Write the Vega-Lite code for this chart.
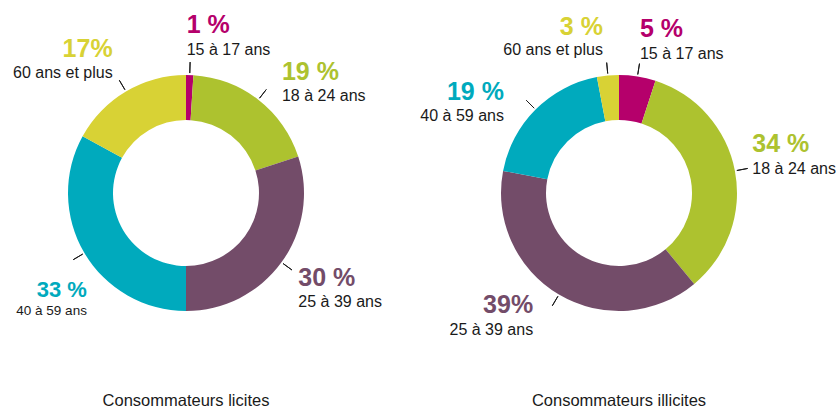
{
  "$schema": "https://vega.github.io/schema/vega-lite/v6.json",
  "padding": 0,
  "spacing": 61,
  "bounds": "flush",
  "background": "white",
  "config": {"view": {"stroke": null}, "font": "Liberation Sans"},
  "datasets": {
    "d": [
      {"chart": "licites", "group": "15 à 17 ans", "value": 1, "pct": "1 %"},
      {"chart": "licites", "group": "18 à 24 ans", "value": 19, "pct": "19 %"},
      {"chart": "licites", "group": "25 à 39 ans", "value": 30, "pct": "30 %"},
      {"chart": "licites", "group": "40 à 59 ans", "value": 33, "pct": "33 %"},
      {"chart": "licites", "group": "60 ans et plus", "value": 17, "pct": "17%"},
      {"chart": "illicites", "group": "15 à 17 ans", "value": 5, "pct": "5 %"},
      {"chart": "illicites", "group": "18 à 24 ans", "value": 34, "pct": "34 %"},
      {"chart": "illicites", "group": "25 à 39 ans", "value": 39, "pct": "39%"},
      {"chart": "illicites", "group": "40 à 59 ans", "value": 19, "pct": "19 %"},
      {"chart": "illicites", "group": "60 ans et plus", "value": 3, "pct": "3 %"}
    ]
  },
  "data": {"name": "d"},
  "hconcat": [
    {
      "width": 372,
      "height": 386,
      "title": {"text": "Consommateurs licites", "orient": "bottom", "offset": 20, "baseline": "alphabetic", "fontSize": 16.5, "fontWeight": "normal", "color": "#1a1a1a"},
      "transform": [{"filter": "datum.chart === 'licites'"}],
      "encoding": {
        "theta": {"field": "value", "type": "quantitative", "stack": true},
        "order": {"field": "group", "type": "ordinal", "sort": "ascending"}
      },
      "layer": [
        {"mark": {"type": "arc", "innerRadius": 73, "outerRadius": 118},
         "encoding": {"color": {"field": "group", "type": "nominal", "legend": null,
           "scale": {"domain": ["15 à 17 ans", "18 à 24 ans", "25 à 39 ans", "40 à 59 ans", "60 ans et plus"], "range": ["#b5006b", "#adc22f", "#734c69", "#00aabd", "#d8d235"]}}}},
        {"mark": {"type": "arc", "innerRadius": 120, "outerRadius": 131, "padAngle": 3, "fill": null, "stroke": "#1a1a1a", "strokeWidth": 1},
         "encoding": {"detail": {"field": "group", "type": "nominal"}}},

        {"mark": {"type": "text", "radius": 150, "align": "left", "baseline": "alphabetic", "dx": -4, "dy": -10, "fontSize": 25, "fontWeight": "bold"},
         "encoding": {"color": {"field": "group", "type": "nominal", "legend": null},
           "text": {"condition": {"test": "datum.group === '15 à 17 ans'", "field": "pct", "type": "nominal"}, "value": ""}}},
        {"mark": {"type": "text", "radius": 150, "align": "left", "baseline": "alphabetic", "dx": -4, "dy": 12, "fontSize": 16, "color": "#1a1a1a"},
         "encoding": {"detail": {"field": "group", "type": "nominal"},
           "text": {"condition": {"test": "datum.group === '15 à 17 ans'", "field": "group", "type": "nominal"}, "value": ""}}},

        {"mark": {"type": "text", "radius": 150, "align": "left", "baseline": "alphabetic", "dx": 4, "dy": 5.5, "fontSize": 25, "fontWeight": "bold"},
         "encoding": {"color": {"field": "group", "type": "nominal", "legend": null},
           "text": {"condition": {"test": "datum.group === '18 à 24 ans'", "field": "pct", "type": "nominal"}, "value": ""}}},
        {"mark": {"type": "text", "radius": 150, "align": "left", "baseline": "alphabetic", "dx": 4, "dy": 26.5, "fontSize": 16, "color": "#1a1a1a"},
         "encoding": {"detail": {"field": "group", "type": "nominal"},
           "text": {"condition": {"test": "datum.group === '18 à 24 ans'", "field": "group", "type": "nominal"}, "value": ""}}},

        {"mark": {"type": "text", "radius": 150, "align": "left", "baseline": "alphabetic", "dx": -9, "dy": 5, "fontSize": 25, "fontWeight": "bold"},
         "encoding": {"color": {"field": "group", "type": "nominal", "legend": null},
           "text": {"condition": {"test": "datum.group === '25 à 39 ans'", "field": "pct", "type": "nominal"}, "value": ""}}},
        {"mark": {"type": "text", "radius": 150, "align": "left", "baseline": "alphabetic", "dx": -9, "dy": 26, "fontSize": 16, "color": "#1a1a1a"},
         "encoding": {"detail": {"field": "group", "type": "nominal"},
           "text": {"condition": {"test": "datum.group === '25 à 39 ans'", "field": "group", "type": "nominal"}, "value": ""}}},

        {"mark": {"type": "text", "radius": 150, "align": "right", "baseline": "alphabetic", "dx": 30, "dy": 27.5, "fontSize": 22, "fontWeight": "bold"},
         "encoding": {"color": {"field": "group", "type": "nominal", "legend": null},
           "text": {"condition": {"test": "datum.group === '40 à 59 ans'", "field": "pct", "type": "nominal"}, "value": ""}}},
        {"mark": {"type": "text", "radius": 150, "align": "right", "baseline": "alphabetic", "dx": 30, "dy": 45.5, "fontSize": 13.5, "color": "#1a1a1a"},
         "encoding": {"detail": {"field": "group", "type": "nominal"},
           "text": {"condition": {"test": "datum.group === '40 à 59 ans'", "field": "group", "type": "nominal"}, "value": ""}}},

        {"mark": {"type": "text", "radius": 150, "align": "right", "baseline": "alphabetic", "dx": 3, "dy": -7, "fontSize": 25, "fontWeight": "bold"},
         "encoding": {"color": {"field": "group", "type": "nominal", "legend": null},
           "text": {"condition": {"test": "datum.group === '60 ans et plus'", "field": "pct", "type": "nominal"}, "value": ""}}},
        {"mark": {"type": "text", "radius": 150, "align": "right", "baseline": "alphabetic", "dx": 3, "dy": 14, "fontSize": 16, "color": "#1a1a1a"},
         "encoding": {"detail": {"field": "group", "type": "nominal"},
           "text": {"condition": {"test": "datum.group === '60 ans et plus'", "field": "group", "type": "nominal"}, "value": ""}}}
      ]
    },
    {
      "width": 372,
      "height": 386,
      "title": {"text": "Consommateurs illicites", "orient": "bottom", "offset": 20, "baseline": "alphabetic", "fontSize": 16.5, "fontWeight": "normal", "color": "#1a1a1a"},
      "transform": [{"filter": "datum.chart === 'illicites'"}],
      "encoding": {
        "theta": {"field": "value", "type": "quantitative", "stack": true},
        "order": {"field": "group", "type": "ordinal", "sort": "ascending"}
      },
      "layer": [
        {"mark": {"type": "arc", "innerRadius": 73, "outerRadius": 118},
         "encoding": {"color": {"field": "group", "type": "nominal", "legend": null}}},
        {"mark": {"type": "arc", "innerRadius": 120, "outerRadius": 131, "padAngle": 3, "fill": null, "stroke": "#1a1a1a", "strokeWidth": 1},
         "encoding": {"detail": {"field": "group", "type": "nominal"}}},

        {"mark": {"type": "text", "radius": 150, "align": "left", "baseline": "alphabetic", "dx": -2.5, "dy": -8, "fontSize": 25, "fontWeight": "bold"},
         "encoding": {"color": {"field": "group", "type": "nominal", "legend": null},
           "text": {"condition": {"test": "datum.group === '15 à 17 ans'", "field": "pct", "type": "nominal"}, "value": ""}}},
        {"mark": {"type": "text", "radius": 150, "align": "left", "baseline": "alphabetic", "dx": -2.5, "dy": 14, "fontSize": 16, "color": "#1a1a1a"},
         "encoding": {"detail": {"field": "group", "type": "nominal"},
           "text": {"condition": {"test": "datum.group === '15 à 17 ans'", "field": "group", "type": "nominal"}, "value": ""}}},

        {"mark": {"type": "text", "radius": 150, "align": "left", "baseline": "alphabetic", "dx": -14, "dy": -13, "fontSize": 25, "fontWeight": "bold"},
         "encoding": {"color": {"field": "group", "type": "nominal", "legend": null},
           "text": {"condition": {"test": "datum.group === '18 à 24 ans'", "field": "pct", "type": "nominal"}, "value": ""}}},
        {"mark": {"type": "text", "radius": 150, "align": "left", "baseline": "alphabetic", "dx": -14, "dy": 9, "fontSize": 16, "color": "#1a1a1a"},
         "encoding": {"detail": {"field": "group", "type": "nominal"},
           "text": {"condition": {"test": "datum.group === '18 à 24 ans'", "field": "group", "type": "nominal"}, "value": ""}}},

        {"mark": {"type": "text", "radius": 150, "align": "right", "baseline": "alphabetic", "dx": -9.5, "dy": -9, "fontSize": 25, "fontWeight": "bold"},
         "encoding": {"color": {"field": "group", "type": "nominal", "legend": null},
           "text": {"condition": {"test": "datum.group === '25 à 39 ans'", "field": "pct", "type": "nominal"}, "value": ""}}},
        {"mark": {"type": "text", "radius": 150, "align": "right", "baseline": "alphabetic", "dx": -9.5, "dy": 13, "fontSize": 16, "color": "#1a1a1a"},
         "encoding": {"detail": {"field": "group", "type": "nominal"},
           "text": {"condition": {"test": "datum.group === '25 à 39 ans'", "field": "group", "type": "nominal"}, "value": ""}}},

        {"mark": {"type": "text", "radius": 150, "align": "right", "baseline": "alphabetic", "dx": -9, "dy": 13, "fontSize": 25, "fontWeight": "bold"},
         "encoding": {"color": {"field": "group", "type": "nominal", "legend": null},
           "text": {"condition": {"test": "datum.group === '40 à 59 ans'", "field": "pct", "type": "nominal"}, "value": ""}}},
        {"mark": {"type": "text", "radius": 150, "align": "right", "baseline": "alphabetic", "dx": -9, "dy": 34, "fontSize": 16, "color": "#1a1a1a"},
         "encoding": {"detail": {"field": "group", "type": "nominal"},
           "text": {"condition": {"test": "datum.group === '40 à 59 ans'", "field": "group", "type": "nominal"}, "value": ""}}},

        {"mark": {"type": "text", "radius": 150, "align": "right", "baseline": "alphabetic", "dx": -2, "dy": -9, "fontSize": 25, "fontWeight": "bold"},
         "encoding": {"color": {"field": "group", "type": "nominal", "legend": null},
           "text": {"condition": {"test": "datum.group === '60 ans et plus'", "field": "pct", "type": "nominal"}, "value": ""}}},
        {"mark": {"type": "text", "radius": 150, "align": "right", "baseline": "alphabetic", "dx": -2, "dy": 11, "fontSize": 16, "color": "#1a1a1a"},
         "encoding": {"detail": {"field": "group", "type": "nominal"},
           "text": {"condition": {"test": "datum.group === '60 ans et plus'", "field": "group", "type": "nominal"}, "value": ""}}}
      ]
    }
  ]
}
